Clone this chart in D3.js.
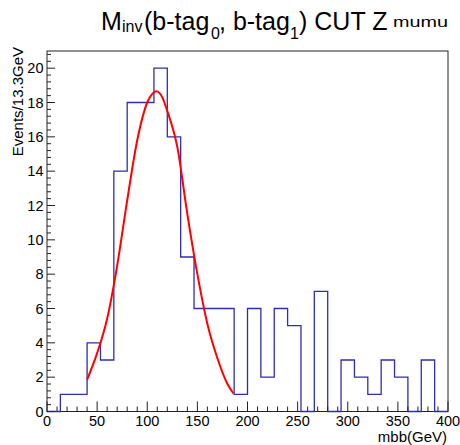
<!DOCTYPE html>
<html>
<head>
<meta charset="utf-8">
<script src="https://cdn.jsdelivr.net/npm/d3@7"></script>
<style>
  html, body { margin: 0; padding: 0; background: #fff; }
  svg { display: block; font-family: "Liberation Sans", Arial, Helvetica, sans-serif; }
</style>
</head>
<body>
<svg id="chart" width="460" height="445"></svg>
<script>
// ---- data ----
const histRange = [0, 400];          // mbb (GeV), 30 bins of 13.3 GeV
const binCounts = [0, 1, 1, 4, 3, 14, 18, 18, 20, 16, 9, 6, 6, 6, 1,
                   6, 2, 6, 5, 0, 7, 0, 3, 2, 1, 3, 2, 0, 3, 0];
const fitX = [40, 50, 60, 70, 80, 90, 100, 105, 109, 115, 120, 130, 140, 150, 160, 170, 180, 186];
const fitY = [1.85, 3.4, 5.4, 8.5, 12.3, 15.8, 18.0, 18.5, 18.65, 18.3, 17.5, 15.4, 11.5, 8.0, 5.1, 3.1, 1.6, 1.05];
const xTicks = [0, 50, 100, 150, 200, 250, 300, 350, 400];
const yTicks = [0, 2, 4, 6, 8, 10, 12, 14, 16, 18, 20];
const yMax = 21;

// ---- layout ----
const svg = d3.select("#chart");
const L = 47, R = 448, T = 51, B = 411.5;
const x = d3.scaleLinear().domain(histRange).range([L, R]);
const y = d3.scaleLinear().domain([0, yMax]).range([B, T]);

// frame
svg.append("rect").attr("x", L).attr("y", T).attr("width", R - L).attr("height", B - T)
  .attr("fill", "#fff").attr("stroke", "#222").attr("stroke-width", 1);

// histogram outline
const nb = binCounts.length;
const bw = (histRange[1] - histRange[0]) / nb;
const pts = [[histRange[0], 0]];
binCounts.forEach((c, i) => {
  const x0 = histRange[0] + i * bw, x1 = x0 + bw;
  pts.push([x0, c], [x1, c]);
});
pts.push([histRange[1], 0]);
svg.append("path")
  .attr("d", d3.line().x(d => x(d[0])).y(d => y(d[1]))(pts))
  .attr("fill", "none").attr("stroke", "#2e2eb0").attr("stroke-width", 1.3);

// fit curve
svg.append("path")
  .attr("d", d3.line().x((d, i) => x(fitX[i])).y(d => y(d)).curve(d3.curveMonotoneX)(fitY))
  .attr("fill", "none").attr("stroke", "#ff0000").attr("stroke-width", 2);

// x axis ticks (inside, upward)
const xMinor = d3.range(histRange[0], histRange[1] + 0.1, 10);
const gx = svg.append("g");
gx.selectAll("line").data(xMinor).join("line")
  .attr("x1", d => x(d)).attr("x2", d => x(d))
  .attr("y1", B).attr("y2", d => B - (xTicks.includes(d) ? 10 : 5))
  .attr("stroke", "#222").attr("stroke-width", 1);
gx.selectAll("text").data(xTicks).join("text")
  .attr("x", d => x(d)).attr("y", 425.5)
  .attr("text-anchor", "middle").attr("font-size", 14.5).attr("fill", "#000")
  .text(d => d);

// y axis ticks (inside, rightward)
const yMinor = d3.range(0, yMax + 0.01, 0.4);
const gy = svg.append("g");
gy.selectAll("line").data(yMinor).join("line")
  .attr("x1", L).attr("x2", d => L + (Math.abs(d / 2 - Math.round(d / 2)) < 1e-6 ? 8 : 4))
  .attr("y1", d => y(d)).attr("y2", d => y(d))
  .attr("stroke", "#222").attr("stroke-width", 1);
gy.selectAll("text").data(yTicks).join("text")
  .attr("x", 43.5).attr("y", d => y(d)).attr("dy", "0.36em")
  .attr("text-anchor", "end").attr("font-size", 14.5).attr("fill", "#000")
  .text(d => d);

// axis titles
svg.append("text").attr("x", 447).attr("y", 442)
  .attr("text-anchor", "end").attr("font-size", 15).text("mbb(GeV)");
svg.append("text").attr("transform", "translate(23,47) rotate(-90)")
  .attr("text-anchor", "end").attr("font-size", 15).text("Events/13.3GeV");

// title
const title = svg.append("text").attr("y", 30).attr("font-size", 25).attr("fill", "#000");
title.append("tspan").attr("x", 101).text("M");
title.append("tspan").attr("x", 122).attr("dy", 2).attr("font-size", 16).text("inv");
title.append("tspan").attr("x", 144).attr("dy", -2).text("(b-tag");
title.append("tspan").attr("x", 211).attr("dy", 9).attr("font-size", 16).text("0");
title.append("tspan").attr("x", 219).attr("dy", -9).text(", b-tag");
title.append("tspan").attr("x", 290).attr("dy", 9).attr("font-size", 16).text("1");
title.append("tspan").attr("x", 299).attr("dy", -9).text(") CUT Z");
title.append("tspan").attr("x", 393).attr("dy", -3.5).attr("font-size", 15)
  .attr("textLength", 55).attr("lengthAdjust", "spacingAndGlyphs").text("mumu");
</script>
</body>
</html>
